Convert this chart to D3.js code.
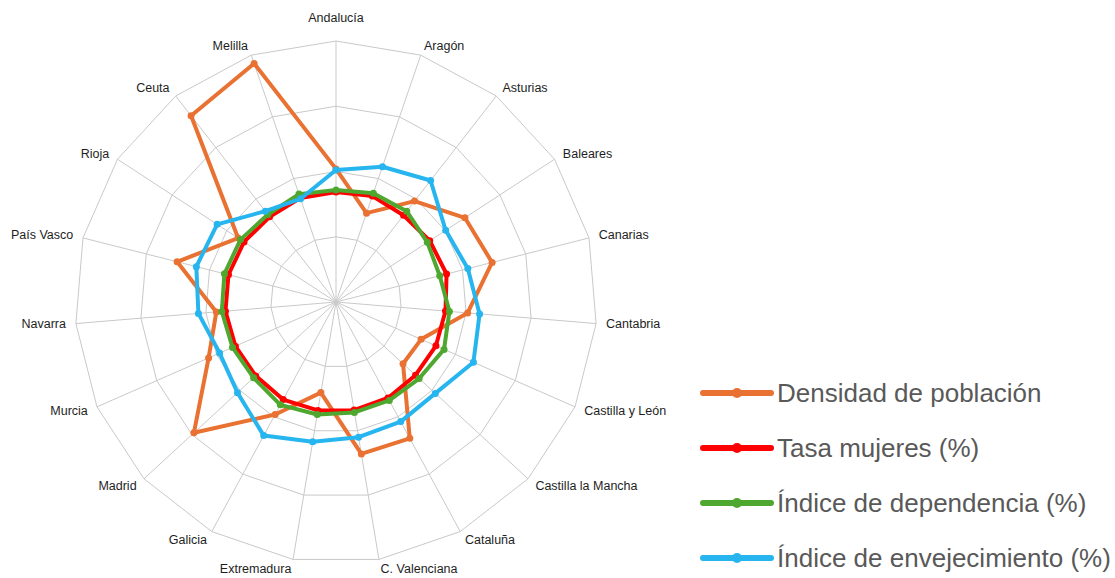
<!DOCTYPE html>
<html>
<head>
<meta charset="utf-8">
<script src="https://cdn.jsdelivr.net/npm/d3@7"></script>
<style>
  body { margin: 0; background: #fff; }
  svg { display: block; }
  .cat-label { font-family: "Liberation Sans", Arial, sans-serif; font-size: 12.5px; fill: #1e1e1e; }
  .legend-label { font-family: "Liberation Sans", Arial, sans-serif; font-size: 26px; fill: #595959; }
</style>
</head>
<body>
<div id="vis"></div>
<script>
'use strict'

const categories = ['Andalucía', 'Aragón', 'Asturias', 'Baleares', 'Canarias', 'Cantabria', 'Castilla y León',
  'Castilla la Mancha', 'Cataluña', 'C. Valenciana', 'Extremadura', 'Galicia', 'Madrid', 'Murcia',
  'Navarra', 'País Vasco', 'Rioja', 'Ceuta', 'Melilla']

const densidad = [51, 36, 49, 59, 61.7, 50.6, 35.6, 34.9, 59.4, 59, 35.2, 49, 74, 53.3, 46, 62.8, 44.8, 90.4, 96.6]
const tasaMujeres = [42.1, 42.9, 42.1, 42.9, 43.7, 42.1, 41.8, 41.4, 41.8, 42, 42.1, 42.5, 41.8, 42.1, 42.5, 42.5, 42.1, 41.4, 42.1]
const indiceDependencia = [42.9, 44.1, 44.1, 41.8, 41, 43.6, 45.2, 43.3, 42.9, 42.9, 43.7, 44.8, 42.9, 43.3, 43.9, 44.1, 43.7, 42.5, 43.7]
const indiceEnvejecimiento = [50.6, 54.8, 59, 50.2, 52.1, 55.2, 57.5, 51.7, 52.1, 52.5, 54.3, 58.2, 51.3, 48.7, 52.9, 55.2, 54.4, 44.1, 41.8]

const seriesNames = ['Densidad de población', 'Tasa mujeres (%)', 'Índice de dependencia (%)', 'Índice de envejecimiento (%)']
const seriesColors = ['#E97132', '#FF0000', '#4EA72E', '#27B5EF']
const gridTicks = [25, 50, 75, 100]

function wrapper(){
  let width = 1115
  let height = 578
  let cx = 336
  let cy = 302
  let R = 261

  let svg = d3.select("#vis").append("svg")
    .attr("width", width)
    .attr("height", height)

  let r = d3.scaleLinear().domain([0, 100]).range([0, R])
  let angle = d3.scaleLinear().domain([0, categories.length]).range([0, 2 * Math.PI])

  function pt(i, v){
    let a = angle(i)
    return [cx + r(v) * Math.sin(a), cy - r(v) * Math.cos(a)]
  }

  // grid rings
  svg.append("g").selectAll("polygon")
    .data(gridTicks)
    .join("polygon")
    .attr("points", function(t){
      return categories.map((c, i) => pt(i, t).join(",")).join(" ")
    })
    .attr("fill", "none")
    .attr("stroke", "#c9c9c9")
    .attr("stroke-width", 1)

  // spokes
  svg.append("g").selectAll("line")
    .data(categories)
    .join("line")
    .attr("x1", cx)
    .attr("y1", cy)
    .attr("x2", (d, i) => pt(i, 100)[0])
    .attr("y2", (d, i) => pt(i, 100)[1])
    .attr("stroke", "#c9c9c9")
    .attr("stroke-width", 1)

  // category labels
  svg.append("g").selectAll("text")
    .data(categories)
    .join("text")
    .attr("class", "cat-label")
    .attr("dominant-baseline", "central")
    .each(function(d, i){
      let a = angle(i)
      let s = Math.sin(a)
      let c = Math.cos(a)
      let p = pt(i, 100)
      let g = 10
      let anchor = "middle"
      let y = p[1] - c * g
      if (s > 0.05) anchor = "start"
      else if (s < -0.05) anchor = "end"
      else y = p[1] - 23
      d3.select(this)
        .attr("x", p[0] + s * g)
        .attr("y", y)
        .attr("text-anchor", anchor)
        .text(d)
    })

  let allSeries = [densidad, tasaMujeres, indiceDependencia, indiceEnvejecimiento]

  let line = d3.line().curve(d3.curveLinearClosed)

  let series_g = svg.append("g").selectAll("g")
    .data(allSeries)
    .join("g")

  series_g.append("path")
    .attr("d", function(vals){
      return line(vals.map((v, i) => pt(i, v)))
    })
    .attr("fill", "none")
    .attr("stroke", (d, i) => seriesColors[i])
    .attr("stroke-width", 4)
    .attr("stroke-linejoin", "round")

  series_g.each(function(vals, k){
    d3.select(this).selectAll("circle")
      .data(vals)
      .join("circle")
      .attr("cx", (v, i) => pt(i, v)[0])
      .attr("cy", (v, i) => pt(i, v)[1])
      .attr("r", 3.5)
      .attr("fill", seriesColors[k])
  })

  // legend
  let legend = svg.append("g").selectAll("g")
    .data(seriesNames)
    .join("g")
    .attr("transform", (d, i) => "translate(703," + (393 + i * 55) + ")")

  legend.append("line")
    .attr("x1", 0)
    .attr("x2", 68)
    .attr("stroke", (d, i) => seriesColors[i])
    .attr("stroke-width", 6)
    .attr("stroke-linecap", "round")

  legend.append("circle")
    .attr("cx", 34)
    .attr("r", 5)
    .attr("fill", (d, i) => seriesColors[i])

  legend.append("text")
    .attr("class", "legend-label")
    .attr("x", 74)
    .attr("y", 9)
    .text(d => d)
}

wrapper()
</script>
</body>
</html>
